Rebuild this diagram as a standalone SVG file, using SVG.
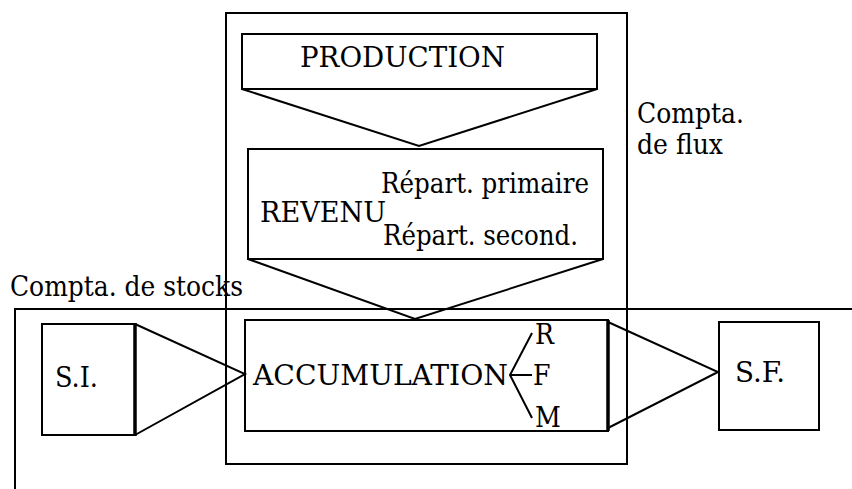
<svg xmlns="http://www.w3.org/2000/svg" width="852" height="489" viewBox="0 0 852 489">
<style>
.l{fill:none;stroke:#000;stroke-width:2}
.b{fill:none;stroke:#000;stroke-width:3.5}
text{font-family:'DejaVu Serif Condensed','DejaVu Serif',serif;font-stretch:condensed;font-size:28px;fill:#000}
</style>
<rect width="852" height="489" fill="#fff"/>
<g id="flux-frame">
<rect class="l" x="226" y="13" width="401" height="451"/>
<text x="637" y="123" textLength="107" lengthAdjust="spacingAndGlyphs">Compta.</text>
<text x="637" y="154" textLength="86" lengthAdjust="spacingAndGlyphs">de flux</text>
</g>
<g id="stocks-frame">
<polyline class="l" points="15,489 15,309 852,309"/>
<text x="10" y="296" textLength="233" lengthAdjust="spacingAndGlyphs">Compta. de stocks</text>
</g>
<g id="production">
<rect class="l" x="242" y="34" width="355" height="55"/>
<text x="300" y="67" textLength="205" lengthAdjust="spacingAndGlyphs">PRODUCTION</text>
</g>
<g id="revenu">
<rect class="l" x="248" y="149" width="355" height="110"/>
<text x="260" y="222" textLength="126" lengthAdjust="spacingAndGlyphs">REVENU</text>
<text x="381" y="193" textLength="208" lengthAdjust="spacingAndGlyphs">Répart. primaire</text>
<text x="383" y="245" textLength="195" lengthAdjust="spacingAndGlyphs">Répart. second.</text>
</g>
<g id="accumulation">
<rect class="l" x="245" y="320" width="363" height="111"/>
<line class="b" x1="608" y1="320" x2="608" y2="431"/>
<text x="253" y="385" textLength="255" lengthAdjust="spacingAndGlyphs">ACCUMULATION</text>
<polyline class="l" points="532,333 510,375 532,418"/>
<line class="l" x1="510" y1="375" x2="532" y2="375"/>
<text x="535" y="344">R</text>
<text x="533" y="385">F</text>
<text x="535" y="427">M</text>
</g>
<g id="si">
<rect class="l" x="42" y="324" width="93" height="111"/>
<line class="b" x1="135" y1="323" x2="135" y2="436"/>
<text x="55" y="387" textLength="43" lengthAdjust="spacingAndGlyphs">S.I.</text>
</g>
<g id="sf">
<rect class="l" x="719" y="322" width="100" height="108"/>
<text x="735" y="382" textLength="50" lengthAdjust="spacingAndGlyphs">S.F.</text>
</g>
<g id="connectors">
<polyline class="l" points="242,89 419,146 597,89"/>
<polyline class="l" points="248,259 415,319 603,259"/>
<polyline class="l" points="135,324 245,374 135,435"/>
<polyline class="l" points="608,322 718,372 608,428"/>
</g>
</svg>
